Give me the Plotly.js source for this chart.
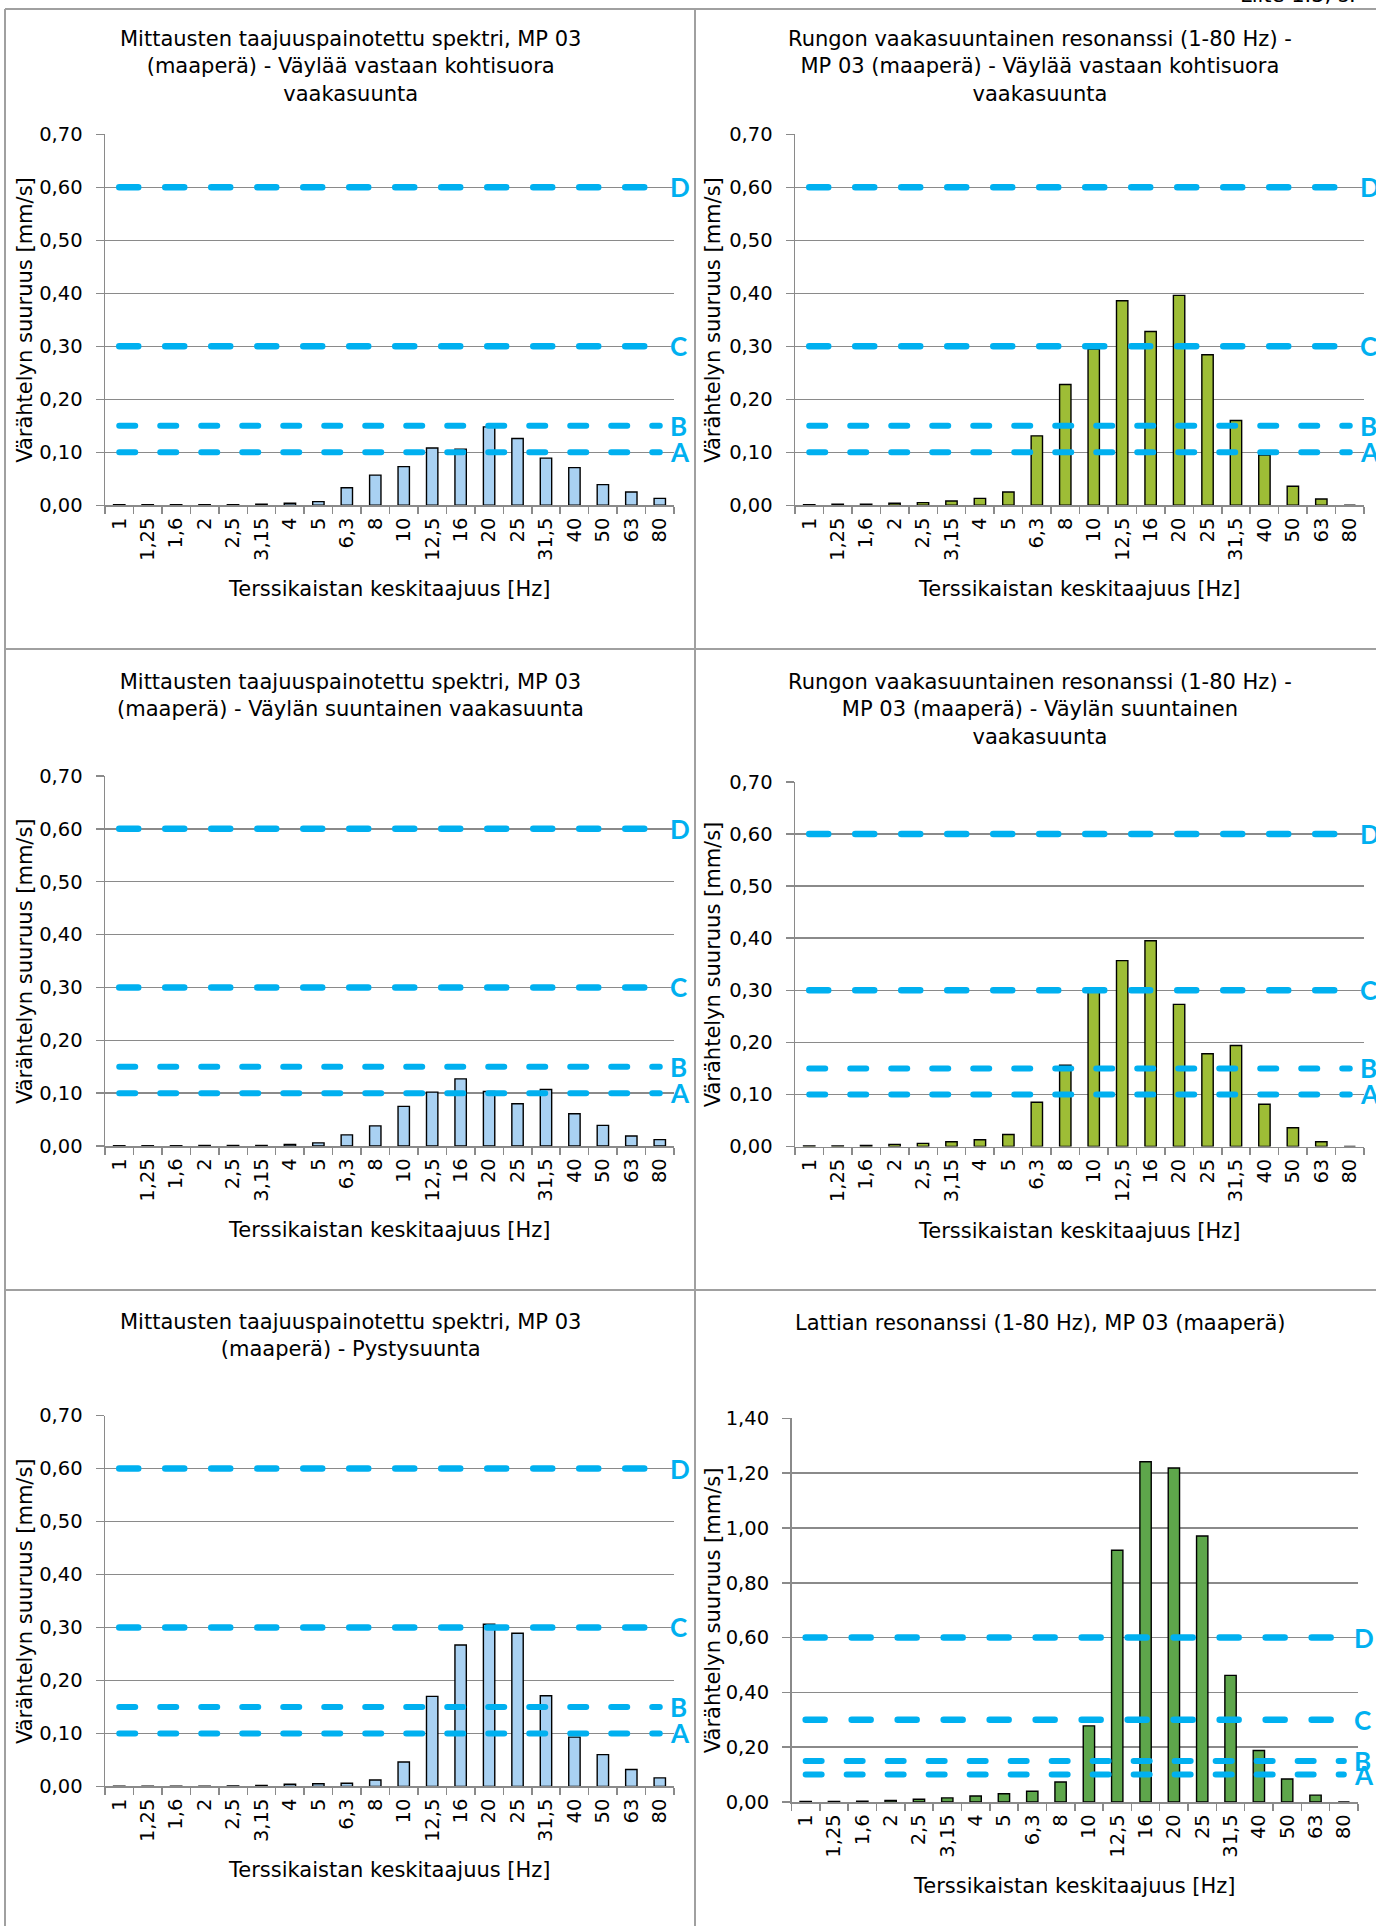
<!DOCTYPE html>
<html>
<head>
<meta charset="utf-8">
<script src="https://cdn.plot.ly/plotly-3.0.1.min.js"></script>
<style>
  html, body { margin: 0; padding: 0; background: #ffffff; }
  #chart { width: 1376px; height: 1926px; }
  /* rounded ends on the dashed limit lines */
  .scatterlayer .js-line { stroke-linecap: round !important; }
</style>
</head>
<body>
<div id="chart"></div>
<script>
// One-third octave band centre frequencies [Hz]
const bands = ['1', '1,25', '1,6', '2', '2,5', '3,15', '4', '5', '6,3', '8',
               '10', '12,5', '16', '20', '25', '31,5', '40', '50', '63', '80'];

// Frequency-weighted spectra measured at MP 03 (soil) [mm/s]
const perpendicularSpectrum = [0.001, 0.001, 0.001, 0.001, 0.001, 0.002, 0.004, 0.007, 0.033, 0.057,
                               0.073, 0.108, 0.106, 0.148, 0.126, 0.089, 0.071, 0.039, 0.025, 0.013];
const parallelSpectrum      = [0.0005, 0.0005, 0.0005, 0.001, 0.001, 0.001, 0.003, 0.006, 0.021, 0.038,
                               0.075, 0.102, 0.127, 0.103, 0.080, 0.107, 0.061, 0.039, 0.019, 0.012];
const verticalSpectrum      = [0.0005, 0.0005, 0.0005, 0.0005, 0.001, 0.002, 0.004, 0.005, 0.006, 0.012,
                               0.046, 0.170, 0.267, 0.306, 0.289, 0.171, 0.093, 0.060, 0.032, 0.016];

// Frame / floor resonance responses (1-80 Hz) [mm/s]
const perpendicularFrame = [0.001, 0.002, 0.002, 0.004, 0.005, 0.008, 0.013, 0.025, 0.131, 0.228,
                            0.295, 0.386, 0.328, 0.396, 0.284, 0.160, 0.095, 0.036, 0.012, 0];
const parallelFrame      = [0.001, 0.001, 0.002, 0.004, 0.006, 0.009, 0.013, 0.023, 0.085, 0.156,
                            0.298, 0.357, 0.395, 0.273, 0.178, 0.194, 0.081, 0.036, 0.009, 0];
const floorResonance     = [0.002, 0.002, 0.003, 0.006, 0.010, 0.015, 0.022, 0.030, 0.039, 0.073,
                            0.278, 0.919, 1.242, 1.219, 0.971, 0.462, 0.188, 0.084, 0.025, 0];

// Vibration class limits
const limitNames  = ['A', 'B', 'C', 'D'];
const limitValues = [0.10, 0.15, 0.30, 0.60];

const panelTitles = [
  'Mittausten taajuuspainotettu spektri, MP 03<br>(maaperä) - Väylää vastaan kohtisuora<br>vaakasuunta',
  'Rungon vaakasuuntainen resonanssi (1-80 Hz) -<br>MP 03 (maaperä) - Väylää vastaan kohtisuora<br>vaakasuunta',
  'Mittausten taajuuspainotettu spektri, MP 03<br>(maaperä) - Väylän suuntainen vaakasuunta',
  'Rungon vaakasuuntainen resonanssi (1-80 Hz) -<br>MP 03 (maaperä) - Väylän suuntainen<br>vaakasuunta',
  'Mittausten taajuuspainotettu spektri, MP 03<br>(maaperä) - Pystysuunta',
  'Lattian resonanssi (1-80 Hz), MP 03 (maaperä)'
];
const xTitle = 'Terssikaistan keskitaajuus [Hz]';
const yTitle = 'Värähtelyn suuruus [mm/s]';
const pageNote = 'Liite 1.3, s.';

// ---- page geometry (pixels) ----
const W = 1376, H = 1926;
const px = v => v / W;
const py = v => 1 - v / H;

const BLUE = '#a9d1f2', OLIVE = '#9ebd36', GREEN = '#5ea64b';
const LIMIT = '#00b0f0';
const GRID = '#8a8a8a';
const FONT = 'DejaVu Sans, Verdana, sans-serif';

// box: [left, right, top, bottom] of each plot area; titleY: centre of the title block
const panels = [
  {values: perpendicularSpectrum, color: BLUE,  ymax: 0.7, dtick: 0.1, box: [105, 674, 134.3, 505.3],  titleY: 67,    colX: 350,  yTitleX: 25},
  {values: perpendicularFrame,    color: OLIVE, ymax: 0.7, dtick: 0.1, box: [795, 1364, 134.3, 505.3], titleY: 67,    colX: 1040, yTitleX: 713},
  {values: parallelSpectrum,      color: BLUE,  ymax: 0.7, dtick: 0.1, box: [105, 674, 776, 1146],     titleY: 695.7, colX: 350,  yTitleX: 25},
  {values: parallelFrame,         color: OLIVE, ymax: 0.7, dtick: 0.1, box: [795, 1364, 782, 1146.5],  titleY: 709,   colX: 1040, yTitleX: 713},
  {values: verticalSpectrum,      color: BLUE,  ymax: 0.7, dtick: 0.1, box: [105, 674, 1415.6, 1786.4],titleY: 1335,  colX: 350,  yTitleX: 25},
  {values: floorResonance,        color: GREEN, ymax: 1.4, dtick: 0.2, box: [791.5, 1358, 1418.4, 1802], titleY: 1323.3, colX: 1040, yTitleX: 713}
];

const data = [];
const annotations = [];
const layout = {
  width: W, height: H,
  margin: {l: 0, r: 0, t: 0, b: 0},
  paper_bgcolor: '#ffffff',
  plot_bgcolor: 'rgba(0,0,0,0)',
  showlegend: false,
  bargap: 0.6,
  separators: ', ',
  font: {family: FONT, size: 19.5, color: '#000000'},
  annotations: annotations,
  shapes: []
};

panels.forEach((p, i) => {
  const n = i === 0 ? '' : String(i + 1);
  const xa = 'x' + n, ya = 'y' + n;
  const [l, r, t, b] = p.box;

  layout['xaxis' + n] = {
    domain: [px(l), px(r)], anchor: ya,
    type: 'category', range: [-0.5, bands.length - 0.5],
    tickangle: -90, tickson: 'boundaries', ticklabelstandoff: 3,
    ticks: 'outside', ticklen: 7, tickwidth: 1.5, tickcolor: GRID,
    showline: true, linecolor: GRID, linewidth: 1.5,
    showgrid: false, zeroline: false, fixedrange: true,
    tickfont: {family: FONT, size: 19.5, color: '#000'}
  };
  layout['yaxis' + n] = {
    domain: [py(b), py(t)], anchor: xa,
    range: [0, p.ymax], tick0: 0, dtick: p.dtick, tickformat: '.2f',
    ticks: 'outside', ticklen: 8, tickwidth: 1.5, tickcolor: GRID,
    ticklabelstandoff: 9,
    showline: true, linecolor: GRID, linewidth: 1.5,
    showgrid: true, gridcolor: GRID, gridwidth: 1.5,
    zeroline: false, fixedrange: true,
    tickfont: {family: FONT, size: 19.5, color: '#000'}
  };

  // measured / response bars
  data.push({
    type: 'bar', x: bands, y: p.values, xaxis: xa, yaxis: ya,
    marker: {color: p.color, line: {color: '#000000', width: 1.4}},
    hoverinfo: 'skip'
  });

  // dashed limit lines A-D drawn across all bands
  limitValues.forEach((v, k) => {
    const heavy = k >= 2;
    data.push({
      type: 'scatter', mode: 'lines', x: bands, y: bands.map(() => v),
      xaxis: xa, yaxis: ya,
      line: {color: LIMIT, width: heavy ? 6.5 : 6, dash: heavy ? '19px,27px' : '16px,25px'},
      hoverinfo: 'skip'
    });
    annotations.push({
      xref: xa + ' domain', yref: ya, x: 1, y: v,
      xanchor: 'left', yanchor: 'middle', xshift: -6,
      text: '<b>' + limitNames[k] + '</b>', showarrow: false,
      font: {family: 'Lato, Open Sans, sans-serif', size: 26, color: LIMIT}
    });
  });

  // panel title
  annotations.push({
    xref: 'paper', yref: 'paper', x: px(p.colX), y: py(p.titleY),
    xanchor: 'center', yanchor: 'middle', showarrow: false,
    text: panelTitles[i], align: 'center',
    font: {family: FONT, size: 21, color: '#000'}
  });
  // axis titles
  annotations.push({
    xref: 'paper', yref: 'paper', x: px((l + r) / 2), y: py(b + 84),
    xanchor: 'center', yanchor: 'middle', showarrow: false,
    text: xTitle, font: {family: FONT, size: 21, color: '#000'}
  });
  annotations.push({
    xref: 'paper', yref: 'paper', x: px(p.yTitleX), y: py((t + b) / 2),
    xanchor: 'center', yanchor: 'middle', showarrow: false, textangle: -90,
    text: yTitle, font: {family: FONT, size: 21, color: '#000'}
  });
});

// page header, mostly above the visible sheet
annotations.push({
  xref: 'paper', yref: 'paper', x: px(1238), y: py(-5),
  xanchor: 'left', yanchor: 'middle', showarrow: false,
  text: pageNote, font: {family: FONT, size: 21, color: '#000'}
});

// sheet frame and panel dividers
const frame = {color: '#a0a0a0', width: 2};
const seg = (x0, y0, x1, y1) => ({type: 'line', xref: 'paper', yref: 'paper',
  x0: px(x0), y0: py(y0), x1: px(x1), y1: py(y1), line: frame, layer: 'below'});
layout.shapes.push(
  seg(5, 9, W, 9),
  seg(5, 9, 5, H),
  seg(695, 9, 695, H),
  seg(5, 649, W, 649),
  seg(5, 1290, W, 1290)
);

Plotly.newPlot('chart', data, layout, {staticPlot: true, displayModeBar: false});
</script>
</body>
</html>
